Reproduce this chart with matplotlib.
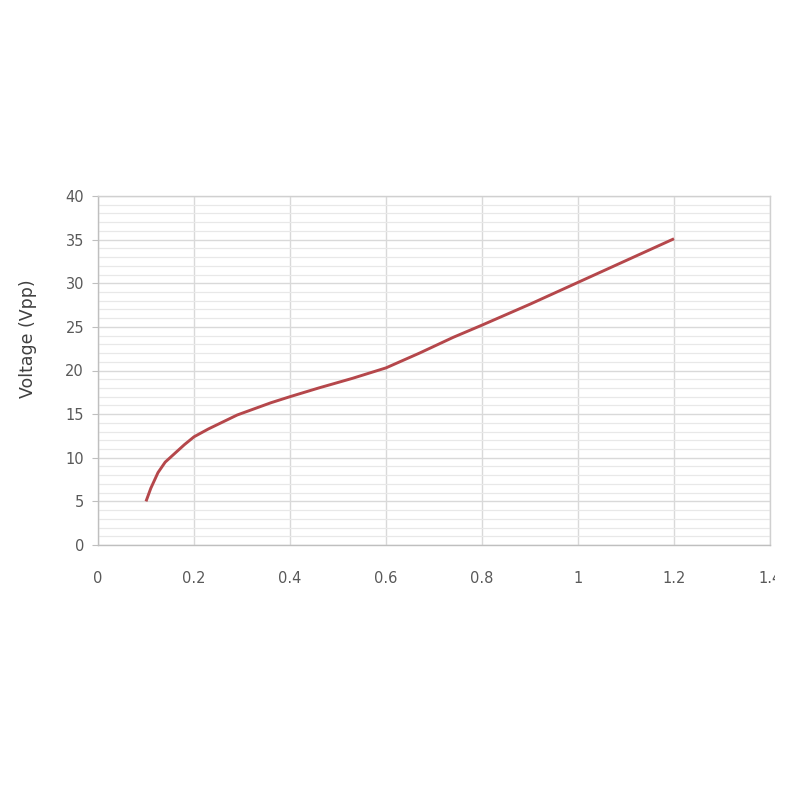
import matplotlib
matplotlib.use("Agg")
import matplotlib.pyplot as plt
from matplotlib.ticker import MultipleLocator
from matplotlib.transforms import Bbox

flow = [0.10, 0.11, 0.125, 0.14, 0.16, 0.18, 0.20, 0.23, 0.26, 0.29, 0.32, 0.36, 0.40,
        0.46, 0.53, 0.60, 0.67, 0.74, 0.80, 0.90, 1.00, 1.10, 1.20]
voltage = [5.0, 6.5, 8.3, 9.5, 10.5, 11.5, 12.4, 13.3, 14.1, 14.9, 15.5, 16.3, 17.0,
           18.0, 19.1, 20.3, 22.0, 23.8, 25.2, 27.6, 30.1, 32.6, 35.1]
x_ticks = [0, 0.2, 0.4, 0.6, 0.8, 1.0, 1.2, 1.4]
x_tick_labels = ["0", "0.2", "0.4", "0.6", "0.8", "1", "1.2", "1.4"]
y_ticks = [0, 5, 10, 15, 20, 25, 30, 35, 40]

fig = plt.figure(figsize=(8, 8), dpi=100)
ax = fig.add_axes([0.1225, 0.31875, 0.84, 0.43625])

ax.plot(flow, voltage, color="#b5474b", lw=2.1, solid_capstyle="butt",
        solid_joinstyle="round", zorder=3)

ax.set_xlim(0, 1.4)
ax.set_ylim(0, 40)
ax.set_xticks(x_ticks)
ax.set_xticklabels(x_tick_labels)
ax.set_yticks(y_ticks)
ax.yaxis.set_minor_locator(MultipleLocator(1))

ax.grid(which="major", axis="both", color="#d9d9d9", lw=1.0, zorder=0)
ax.grid(which="minor", axis="y", color="#e8e8e8", lw=0.9, zorder=0)
ax.set_axisbelow(True)

for s in ax.spines.values():
    s.set_color("#d0d0d0")
    s.set_linewidth(1.0)
ax.spines["left"].set_color("#bfbfbf")
ax.spines["bottom"].set_color("#bfbfbf")

ax.tick_params(axis="y", which="major", length=4, color="#bfbfbf", labelsize=10.5,
               labelcolor="#595959", pad=6)
ax.tick_params(axis="y", which="minor", length=0)
ax.tick_params(axis="x", which="major", length=0, labelsize=10.5,
               labelcolor="#595959", pad=19)

ax.set_ylabel("Voltage (Vpp)", fontsize=12.5, color="#404040")
ax.yaxis.set_label_coords(-0.091, 0.59)
ax.set_xlabel("Flow (ml/min)", fontsize=13, color="white", fontweight="bold", labelpad=22)

fig.text(0.765, 0.91, "TOPSFLO TFZ", color="white", fontsize=18, fontweight="bold",
         ha="center", va="center")
fig.text(0.5, 0.10, "bubbletechpump.com", color="white", fontsize=24, fontweight="bold",
         ha="center", va="center")

fig.canvas.draw()
clip = Bbox.from_extents(0, 0, 775, 800)
for lbl in ax.get_xticklabels():
    if lbl.get_text() == "1.4":
        lbl.set_clip_on(True)
        lbl.set_clip_box(clip)

fig.savefig("out.png", dpi=100, facecolor="white")
